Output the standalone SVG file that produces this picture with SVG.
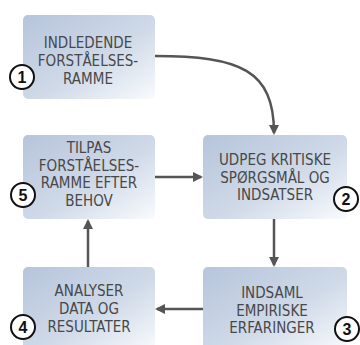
<svg xmlns="http://www.w3.org/2000/svg" width="360" height="345" viewBox="0 0 360 345">
  <style>
    .box { fill: url(#boxFill); }
    .label { font-family: "Liberation Sans Narrow", "DejaVu Sans", sans-serif; font-stretch: condensed; font-size: 15px; fill: #484848; text-anchor: middle; }
    .badge circle { fill: #ffffff; stroke: #111111; stroke-width: 2; }
    .badge text { font-family: "Liberation Sans", Arial, sans-serif; font-weight: bold; font-size: 16px; fill: #111111; text-anchor: middle; }
    .conn { fill: none; stroke: #555555; stroke-width: 2.5; marker-end: url(#arrow); }
  </style>
  <defs>
    <linearGradient id="boxFill" x1="0" y1="0" x2="1" y2="1">
      <stop offset="0" stop-color="#b6c5db"/>
      <stop offset="0.55" stop-color="#cfd9e8"/>
      <stop offset="1" stop-color="#f9fbfd"/>
    </linearGradient>
    <marker id="arrow" viewBox="0 0 10 10" refX="8" refY="5" markerWidth="4" markerHeight="4" orient="auto" markerUnits="strokeWidth">
      <path d="M0,0 L10,5 L0,10 Z" fill="#555555"/>
    </marker>
  </defs>

  <!-- connectors -->
  <g id="connectors">
    <path class="conn" d="M155,56 C240,56 274,70 274,133"/>
    <path class="conn" d="M274,219 L274,265"/>
    <path class="conn" d="M203,309 L157,309"/>
    <path class="conn" d="M88,267 L88,221"/>
    <path class="conn" d="M155,177 L201,177"/>
  </g>

  <!-- step 1 -->
  <g id="step1">
    <rect class="box" x="23" y="15" width="132" height="84" rx="5"/>
    <text class="label" x="88" y="48">INDLEDENDE</text>
    <text class="label" x="88" y="66">FORSTÅELSES-</text>
    <text class="label" x="88" y="84">RAMME</text>
    <g class="badge"><circle cx="22" cy="77" r="12"/><text x="22" y="83">1</text></g>
  </g>

  <!-- step 2 -->
  <g id="step2">
    <rect class="box" x="203" y="135" width="144" height="84" rx="5"/>
    <text class="label" x="275" y="165">UDPEG KRITISKE</text>
    <text class="label" x="275" y="182.5">SPØRGSMÅL OG</text>
    <text class="label" x="275" y="200">INDSATSER</text>
    <g class="badge"><circle cx="346" cy="199" r="12"/><text x="346" y="205">2</text></g>
  </g>

  <!-- step 3 -->
  <g id="step3">
    <rect class="box" x="203" y="267" width="144" height="84" rx="5"/>
    <text class="label" x="272" y="298">INDSAML</text>
    <text class="label" x="272" y="315.5">EMPIRISKE</text>
    <text class="label" x="272" y="333">ERFARINGER</text>
    <g class="badge"><circle cx="347" cy="329" r="12"/><text x="347" y="335">3</text></g>
  </g>

  <!-- step 4 -->
  <g id="step4">
    <rect class="box" x="23" y="267" width="132" height="84" rx="5"/>
    <text class="label" x="89" y="296">ANALYSER</text>
    <text class="label" x="89" y="314">DATA OG</text>
    <text class="label" x="89" y="332">RESULTATER</text>
    <g class="badge"><circle cx="23" cy="327" r="12"/><text x="23" y="333">4</text></g>
  </g>

  <!-- step 5 -->
  <g id="step5">
    <rect class="box" x="23" y="135" width="132" height="84" rx="5"/>
    <text class="label" x="89" y="153">TILPAS</text>
    <text class="label" x="89" y="170.5">FORSTÅELSES-</text>
    <text class="label" x="89" y="188">RAMME EFTER</text>
    <text class="label" x="89" y="205.5">BEHOV</text>
    <g class="badge"><circle cx="23" cy="195" r="12"/><text x="23" y="201">5</text></g>
  </g>
</svg>
